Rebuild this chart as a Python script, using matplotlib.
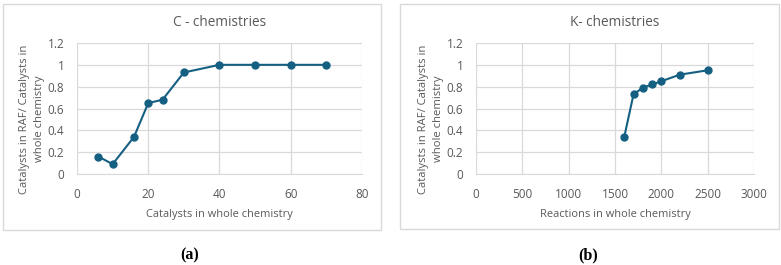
import matplotlib.pyplot as plt
from matplotlib.patches import Rectangle

# data
c_catalysts = [6, 10, 16, 20, 24, 30, 40, 50, 60, 70]
c_ratio = [0.16, 0.09, 0.34, 0.65, 0.68, 0.93, 1.0, 1.0, 1.0, 1.0]

k_reactions = [1600, 1700, 1800, 1900, 2000, 2200, 2500]
k_ratio = [0.34, 0.73, 0.79, 0.82, 0.85, 0.91, 0.95]

c_xticks = [0, 20, 40, 60, 80]
k_xticks = [0, 500, 1000, 1500, 2000, 2500, 3000]
y_ticks = [0, 0.2, 0.4, 0.6, 0.8, 1.0, 1.2]
y_ticklabels = ["0", "0.2", "0.4", "0.6", "0.8", "1", "1.2"]

W, H = 781, 265
LINE = "#156082"
TXT = "#595959"
GRID = "#d9d9d9"
plt.rcParams['font.family'] = ['Open Sans', 'DejaVu Sans']

fig = plt.figure(figsize=(W / 100, H / 100), dpi=100)


def px(x0, y0, w, h):
    # pixel box (top-left origin) -> figure fraction
    return [x0 / W, (H - y0 - h) / H, w / W, h / H]


def panel(box, axbox, x, y, xticks, title, xlabel, ylab_x):
    fig.patches.append(Rectangle((box[0] / W, (H - box[3]) / H),
                                 (box[2] - box[0]) / W, (box[3] - box[1]) / H,
                                 transform=fig.transFigure, fill=False,
                                 edgecolor=GRID, linewidth=1))
    ax = fig.add_axes(px(*axbox))
    ax.plot(x, y, color=LINE, linewidth=1.5, marker='o', markersize=5)
    ax.set_xlim(xticks[0], xticks[-1])
    ax.set_ylim(0, 1.2)
    ax.set_xticks(xticks)
    ax.set_yticks(y_ticks)
    ax.set_yticklabels(y_ticklabels)
    ax.grid(True, color=GRID, linewidth=0.9)
    ax.set_axisbelow(True)
    for s in ['top', 'right', 'left']:
        ax.spines[s].set_visible(False)
    ax.spines['bottom'].set_color(GRID)
    ax.tick_params(length=0, labelsize=8.5, colors=TXT)
    ax.tick_params(axis='x', pad=10)
    ax.tick_params(axis='y', pad=9)
    ax.set_title(title, fontsize=9.8, color=TXT, pad=12)
    ax.set_xlabel(xlabel, fontsize=7.9, color=TXT, labelpad=6)
    fig.text(ylab_x / W, (H - 119) / H,
             "Catalysts in RAF/ Catalysts in\nwhole chemistry",
             rotation=90, ha='center', va='center', fontsize=8.1,
             color=TXT, linespacing=1.45)
    return ax


panel((3, 4, 381, 230), (77, 43, 285, 131), c_catalysts, c_ratio, c_xticks,
      "C - chemistries", "Catalysts in whole chemistry", 32)
panel((400, 4, 779, 229), (476, 43, 278, 131), k_reactions, k_ratio, k_xticks,
      "K- chemistries", "Reactions in whole chemistry", 431)

for tx, lab in [(190, 'a'), (588, 'b')]:
    fig.text(tx / W, (H - 255) / H, "(" + lab + ")", ha='center', va='center',
             fontsize=11.5, family=['Liberation Serif'], fontweight='bold')

fig.savefig("out.png", dpi=100)
